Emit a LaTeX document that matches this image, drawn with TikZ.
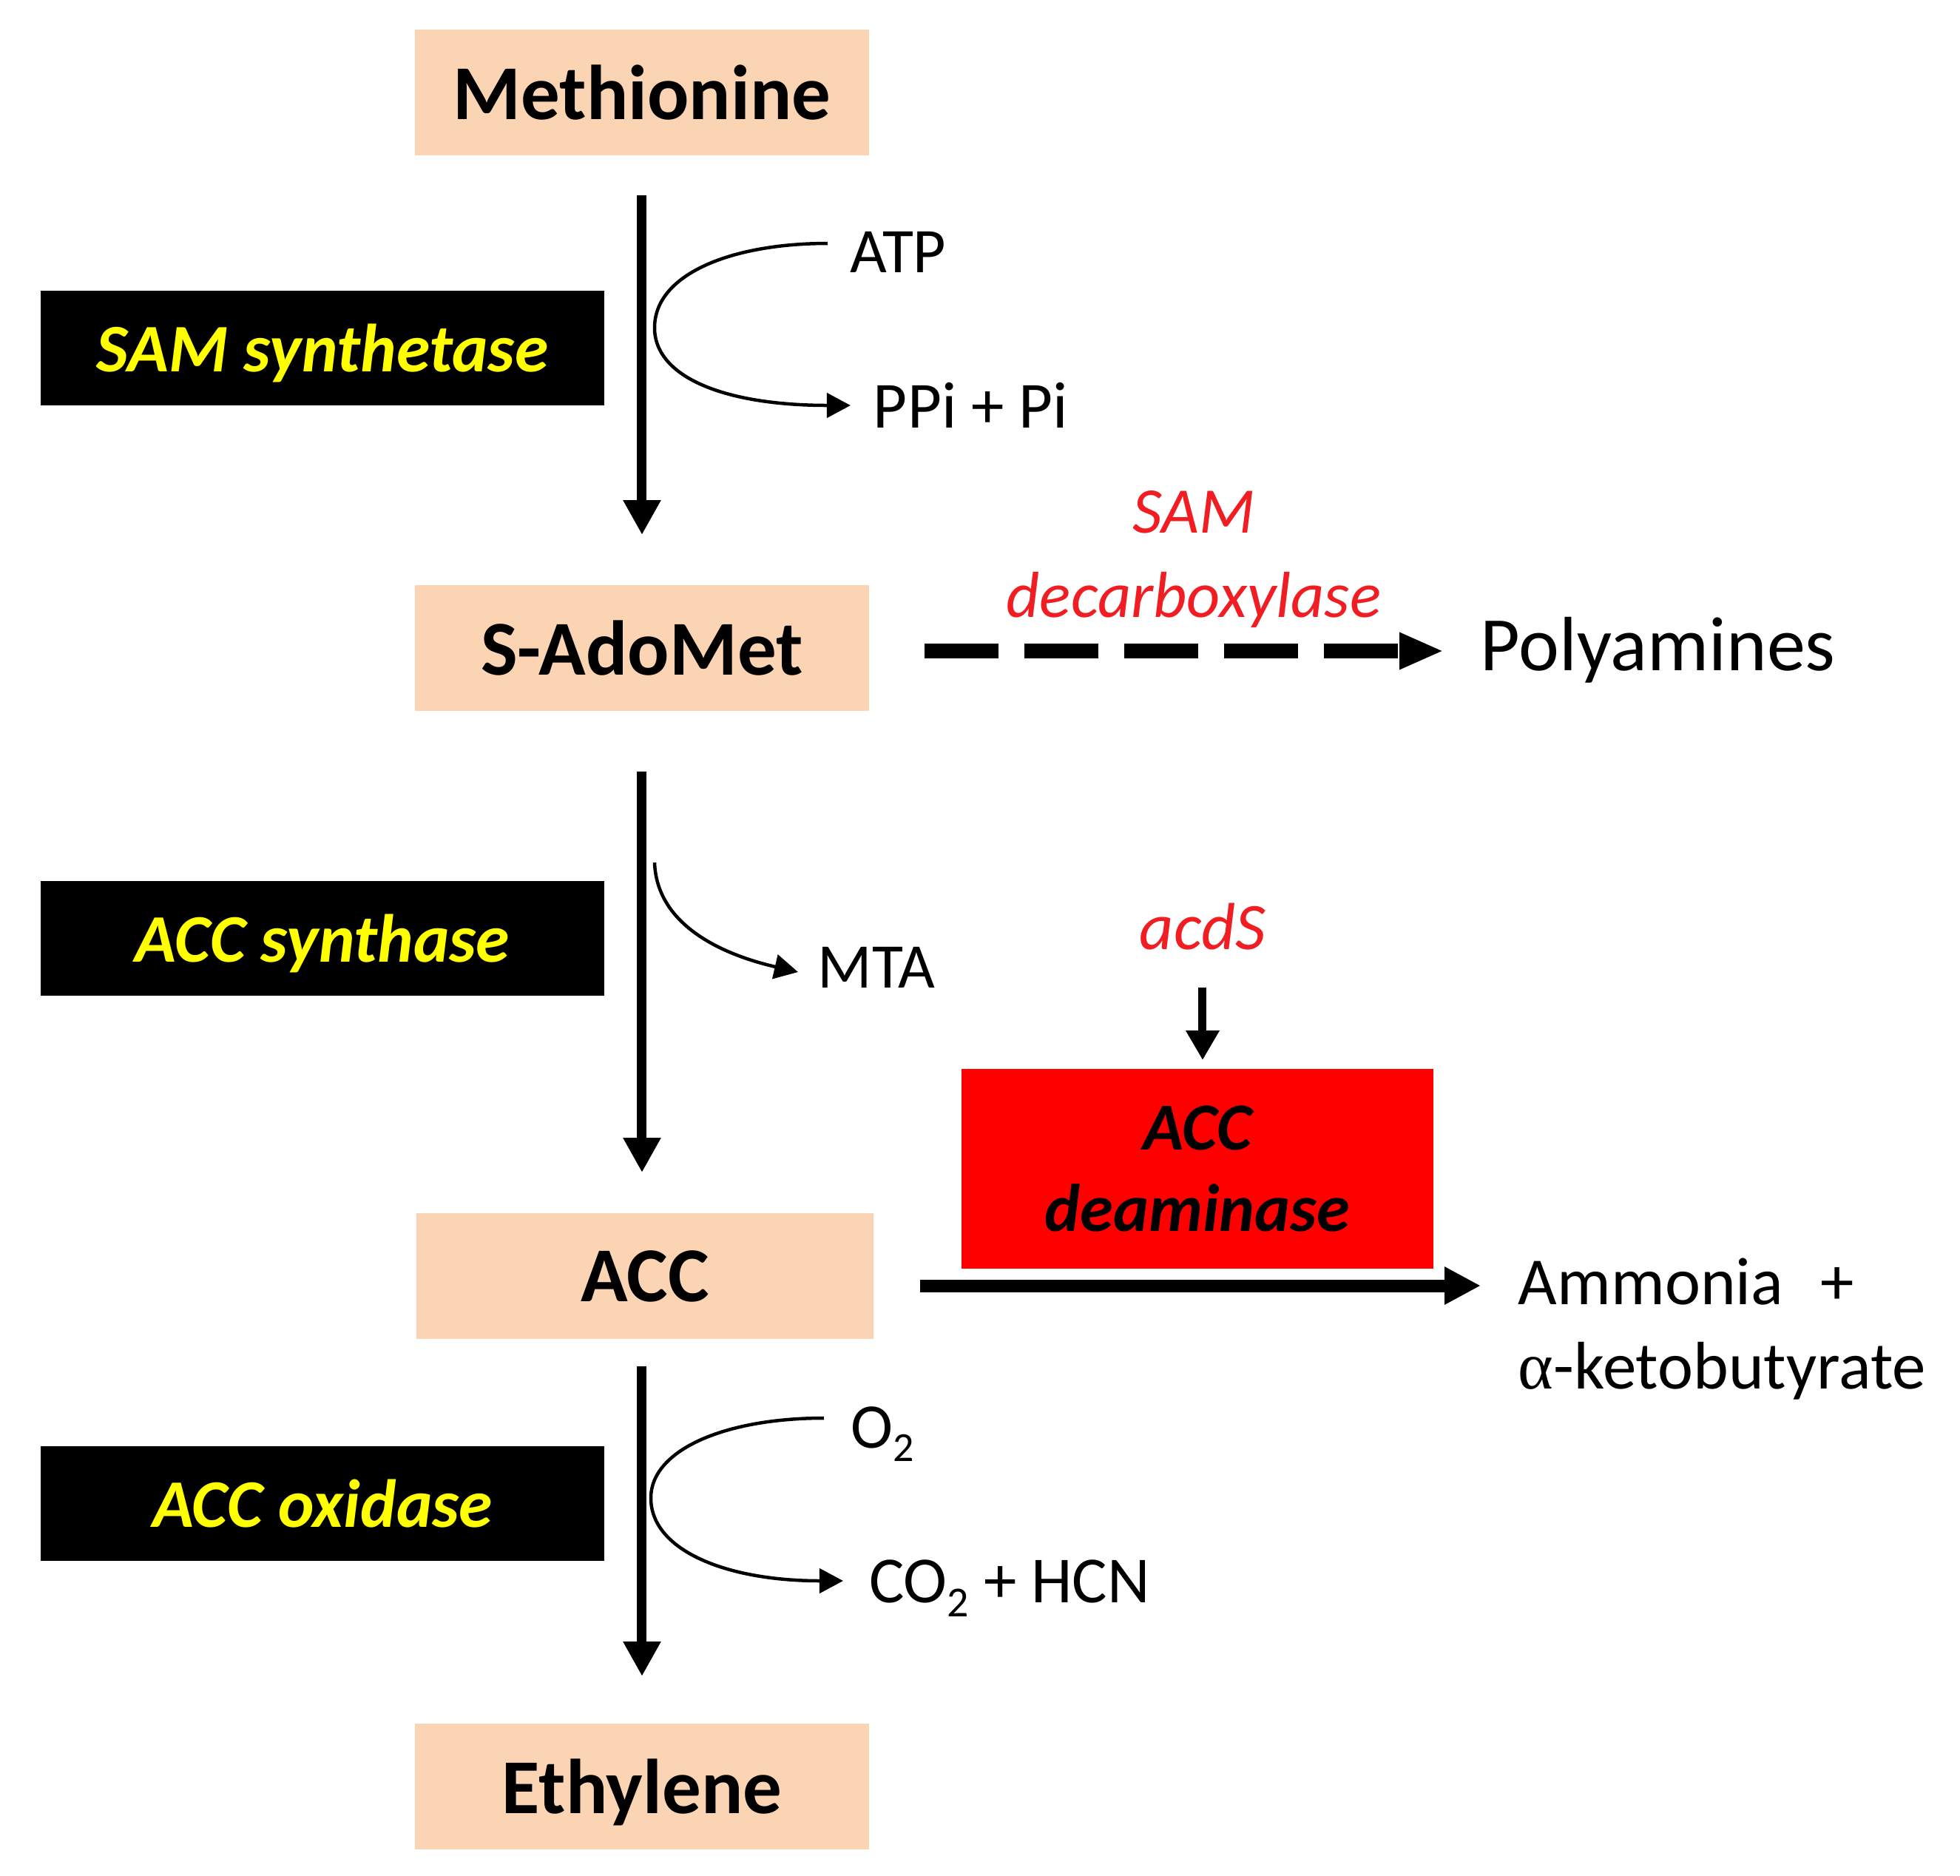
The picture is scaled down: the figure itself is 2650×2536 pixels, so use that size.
\documentclass[tikz,border=0pt]{standalone}
\usepackage{fontspec}
\setmainfont{Carlito}
\newfontfamily\greekserif{Liberation Serif}
\usetikzlibrary{arrows.meta}
\definecolor{peach}{HTML}{FBD4B4}
\definecolor{enzyel}{HTML}{FFFF00}
\definecolor{redtxt}{HTML}{F01E23}
\definecolor{boxred}{HTML}{FF0000}
\newcommand\subtwo{\raisebox{-0.45ex}{\scalebox{0.65}{2}}}
\begin{document}
\begin{tikzpicture}[x=0.1pt,y=-0.1pt,
  metab/.style={fill=peach, minimum width=61.4pt, minimum height=17pt, inner sep=0pt, text depth=0pt,
    font=\fontsize{10.5}{12}\selectfont\bfseries},
  enz/.style={fill=black, text=enzyel, minimum width=76.3pt, minimum height=15.5pt, inner sep=0pt, text depth=0pt,
    font=\fontsize{9.2}{11}\selectfont\bfseries\itshape},
  lbl/.style={inner sep=0pt, anchor=base west, font=\fontsize{8.7}{10}\selectfont},
  redlbl/.style={inner sep=0pt, anchor=base, text=redtxt, font=\fontsize{8.8}{10}\selectfont\itshape},
  mainarrow/.style={line width=1.3pt, -{Triangle[width=4.8pt,length=4.7pt]}},
  sidearrow/.style={line width=0.45pt, -{Triangle[width=3.3pt,length=3.2pt]}},
  dasharrow/.style={line width=2pt, dash pattern=on 10pt off 3.5pt, -{Triangle[width=4.6pt,length=6pt]}},
  deamarrow/.style={line width=1.7pt, -{Triangle[width=4.8pt,length=4.9pt]}},
  genearrow/.style={line width=1.1pt, -{Triangle[width=4.3pt,length=4pt]}}
]
\useasboundingbox (0,0) rectangle (2650,2536);
\fill[white] (0,0) rectangle (2650,2536);

% metabolites
\node[metab] (met) at (868,125) {Methionine};
\node[metab] (sam) at (868,876) {S-AdoMet};
\node[metab, minimum width=61.9pt] (acc) at (872,1725) {ACC};
\node[metab] (eth) at (868,2415) {Ethylene};

% enzymes
\node[enz] (e1) at (436,470) {SAM synthetase};
\node[enz] (e2) at (436,1268) {ACC synthase};
\node[enz] (e3) at (436,2032) {ACC oxidase};

% side labels
\node[lbl, font=\fontsize{8.6}{10}\selectfont] (atp) at (1148,368) {ATP};
\node[lbl, font=\fontsize{8.9}{10}\selectfont] (ppi) at (1179,578) {PPi + Pi};
\node[lbl, font=\fontsize{8.6}{10}\selectfont] (mta) at (1104,1335) {MTA};
\node[lbl, font=\fontsize{8.6}{10}\selectfont] (o2) at (1149,1957) {O\subtwo};
\node[lbl, font=\fontsize{8.9}{10}\selectfont] (co2) at (1173,2166) {CO\subtwo{} + HCN};

\node[lbl, font=\fontsize{10.4}{12}\selectfont] (poly) at (2000,906) {Polyamines};
\node[lbl, font=\fontsize{9.1}{11}\selectfont] (amm) at (2051,1763) {Ammonia\hspace{5pt}+};
\node[lbl, font=\fontsize{9.1}{11}\selectfont] (keto) at (2051,1877) {{\greekserif α}-ketobutyrate};

\node[redlbl] (sdc1) at (1614,720) {SAM};
\node[redlbl] (sdc2) at (1614,834) {decarboxylase};
\node[redlbl, font=\fontsize{9}{10}\selectfont\itshape] (acds) at (1626,1283) {acdS};

% ACC deaminase box
\node[fill=boxred, minimum width=63.8pt, minimum height=27pt, inner sep=0pt, align=center,
  font=\fontsize{9.1}{11}\selectfont\bfseries\itshape] (deam) at (1619,1580) {ACC\\deaminase};

% main arrows
\draw[mainarrow, shorten <=5.2pt, shorten >=6.6pt] (met.south) -- (sam.north);
\draw[mainarrow, shorten <=8pt, shorten >=5.3pt] (sam.south) -- (sam.south |- acc.north);
\draw[mainarrow, shorten <=3.5pt, shorten >=6.2pt] (sam.south |- acc.south) -- (eth.north);

% side curves
\coordinate (atpS) at (1119,329);
\coordinate (ppiE) at (1150,548);
\draw[sidearrow] (atpS) .. controls (990,329) and (885,370) .. (885,443)
  .. controls (885,510) and (980,548) .. (ppiE);
\coordinate (mtaS) at (885,1166);
\coordinate (mtaE) at (1079,1314);
\draw[sidearrow] (mtaS) .. controls (888,1250) and (975,1290) .. (mtaE);
\coordinate (o2S) at (1114,1917);
\coordinate (co2E) at (1140,2137);
\draw[sidearrow] (o2S) .. controls (980,1917) and (880,1960) .. (880,2025)
  .. controls (880,2095) and (980,2137) .. (co2E);

% dashed branch to polyamines
\draw[dasharrow, shorten <=7.3pt, shorten >=4.8pt] ([yshift=-0.4pt]sam.east) -- ([yshift=-0.4pt]sam.east -| poly.west);

% deaminase reaction
\draw[deamarrow, shorten <=6.1pt, shorten >=4.9pt] ([yshift=-1.3pt]acc.east) -- ([yshift=-1.3pt]acc.east -| amm.west);

% gene arrow
\draw[genearrow, shorten <=4.9pt, shorten >=1pt] (acds.south) -- (acds.south |- deam.north);
\end{tikzpicture}
\end{document}
